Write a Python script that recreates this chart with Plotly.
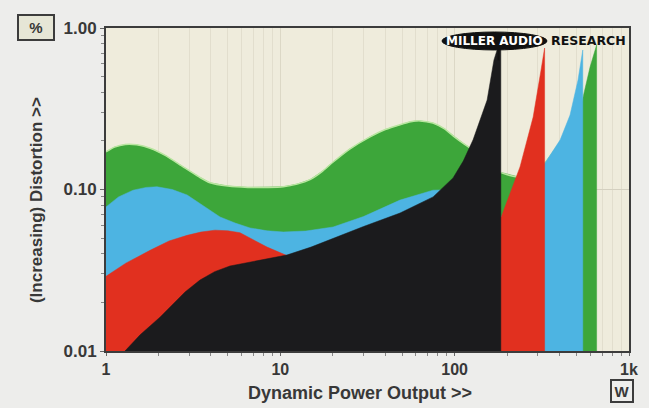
import plotly.graph_objects as go

# ---- data (power in W, distortion in %) ----
green_w = [1.0, 1.12, 1.29, 1.5, 1.79, 2.2, 2.77, 3.4, 3.95, 5.0, 6.5, 8.5, 10.4, 12.5, 14.8, 17.5, 20.1, 25.0, 32.7, 40.0, 48.6, 56.0, 63.3, 75.0, 87.0, 97.9, 112, 127.5, 150, 182, 237, 290, 339, 430, 524, 598, 652]
green_pct = [0.171, 0.183, 0.19, 0.189, 0.18, 0.162, 0.138, 0.12, 0.110, 0.105, 0.103, 0.103, 0.104, 0.108, 0.115, 0.13, 0.148, 0.178, 0.212, 0.235, 0.252, 0.263, 0.266, 0.258, 0.238, 0.215, 0.193, 0.176, 0.155, 0.128, 0.119, 0.13, 0.152, 0.217, 0.311, 0.573, 0.785]

blue_w = [1.0, 1.18, 1.43, 1.7, 1.96, 2.4, 2.92, 3.6, 4.51, 5.5, 6.70, 8.4, 10.4, 14.0, 20.1, 30.0, 48.6, 75.2, 107, 182, 237, 290, 330, 403, 459, 510, 543]
blue_pct = [0.078, 0.09, 0.099, 0.103, 0.104, 0.1, 0.0925, 0.08, 0.0676, 0.062, 0.0578, 0.0555, 0.0546, 0.0553, 0.0586, 0.068, 0.086, 0.099, 0.1, 0.066, 0.1, 0.128, 0.146, 0.203, 0.289, 0.477, 0.731]

red_w = [1.0, 1.3, 1.79, 2.3, 2.92, 3.5, 4.22, 5.0, 5.87, 7.0, 8.39, 10.9, 25.0, 72.0, 185, 237, 282, 313, 328]
red_pct = [0.029, 0.035, 0.042, 0.048, 0.052, 0.0545, 0.056, 0.0555, 0.054, 0.049, 0.044, 0.039, 0.049, 0.060, 0.0676, 0.138, 0.281, 0.55, 0.752]

black_w = [1.285, 1.57, 2.04, 2.45, 2.84, 3.46, 4.2, 5.14, 7.65, 10.9, 15.0, 20.1, 30.0, 48.6, 75.2, 97.9, 112, 127.5, 140, 153.5, 168, 184]
black_pct = [0.01, 0.0126, 0.0162, 0.0198, 0.0232, 0.0275, 0.031, 0.0336, 0.0366, 0.0393, 0.044, 0.050, 0.059, 0.0715, 0.090, 0.118, 0.15, 0.203, 0.27, 0.358, 0.634, 0.867]

x_tickvals = [1, 10, 100, 1000]
x_ticktext = ["1", "10", "100", "1k"]
y_tickvals = [0.01, 0.1, 1.0]
y_ticktext = ["0.01", "0.10", "1.00"]
floor = 0.01

series = [
    ("green", green_w, green_pct, "#3da63a"),
    ("blue", blue_w, blue_pct, "#4db4e2"),
    ("red", red_w, red_pct, "#e1301f"),
    ("black", black_w, black_pct, "#1b1b1d"),
]

fig = go.Figure()
for name, xs, ys, col in series:
    px = list(xs) + [xs[-1], xs[0]]
    py = list(ys) + [floor, floor]
    fig.add_trace(go.Scatter(x=px, y=py, mode="lines", fill="toself",
                             fillcolor=col, line=dict(color=col, width=0.5),
                             hoverinfo="skip", showlegend=False, name=name))
    if name == "green":
        fig.add_trace(go.Scatter(x=xs[:-3], y=ys[:-3], mode="lines",
                                 line=dict(color="#b9e6a0", width=1.5, shape="spline", smoothing=0.6),
                                 hoverinfo="skip", showlegend=False))

txt = "#383838"
fig.update_layout(
    width=649, height=408,
    margin=dict(l=106, r=20, t=28, b=57),
    paper_bgcolor="#ededeb",
    plot_bgcolor="#efecdc",
    font=dict(family="Liberation Sans, Arial", color=txt),
    xaxis=dict(type="log", range=[0, 3], tickvals=x_tickvals, ticktext=x_ticktext,
               tickfont=dict(size=16, weight="bold", color=txt),
               showgrid=True, gridcolor="#dcd8c6", gridwidth=1,
               minor=dict(dtick="D1", showgrid=True, gridcolor="#e2decd", ticks="outside", ticklen=3, tickcolor="#888"),
               ticks="outside", ticklen=3, tickcolor="#666",
               showline=True, mirror=True, linecolor="#3c3c3c", linewidth=2, zeroline=False),
    yaxis=dict(type="log", range=[-2, 0], tickvals=y_tickvals, ticktext=y_ticktext,
               tickfont=dict(size=17, weight="bold", color=txt),
               showgrid=True, gridcolor="#d4d0c0", gridwidth=1,
               minor=dict(dtick="D1", showgrid=False, ticks="outside", ticklen=3, tickcolor="#888"),
               ticks="outside", ticklen=4, tickcolor="#666",
               showline=True, mirror=True, linecolor="#3c3c3c", linewidth=2, zeroline=False),
)

# axis titles
fig.add_annotation(text="Dynamic Power Output >>", xref="paper", yref="paper",
                   x=0.486, y=-0.130, xanchor="center", yanchor="middle", showarrow=False,
                   font=dict(size=18, weight="bold", color=txt))
fig.add_annotation(text="(Increasing) Distortion >>", xref="paper", yref="paper",
                   x=-0.134, y=0.467, xanchor="center", yanchor="middle", showarrow=False, textangle=-90,
                   font=dict(size=17, weight="bold", color=txt))
# unit boxes
fig.add_annotation(text="%", xref="paper", yref="paper", x=-0.134, y=1.003,
                   xanchor="center", yanchor="middle",
                   showarrow=False, font=dict(size=15, weight="bold", color=txt),
                   bordercolor="#3c3c3c", borderwidth=2, borderpad=2, bgcolor="#e6e6d6",
                   width=30, height=19)
fig.add_annotation(text="W", xref="paper", yref="paper", x=0.987, y=-0.124,
                   xanchor="center", yanchor="middle",
                   showarrow=False, font=dict(size=15, weight="bold", color=txt),
                   bordercolor="#3c3c3c", borderwidth=2, borderpad=1, bgcolor="#eeeeec",
                   width=18, height=18)

# logo
fig.add_shape(type="line", xref="paper", yref="paper",
              x0=0.7505, x1=0.7505, y0=0.90, y1=0.95, line=dict(color="#111", width=2))
fig.add_shape(type="circle", xref="paper", yref="paper",
              x0=0.6424, x1=0.8432, y0=0.932, y1=0.9876,
              fillcolor="#111", line=dict(color="#111", width=1))
fig.add_annotation(text="MILLER AUDIO", xref="paper", yref="paper",
                   x=0.743, y=0.960, xanchor="center", yanchor="middle", showarrow=False,
                   font=dict(size=12, weight="bold", color="white", family="DejaVu Sans"))
fig.add_annotation(text="RESEARCH", xref="paper", yref="paper",
                   x=0.9235, y=0.960, xanchor="center", yanchor="middle", showarrow=False,
                   font=dict(size=12.5, weight="bold", color="#111", family="DejaVu Sans"))

fig.write_html("out.html", config={"displayModeBar": False},
               post_script="document.body.style.margin='0';")
